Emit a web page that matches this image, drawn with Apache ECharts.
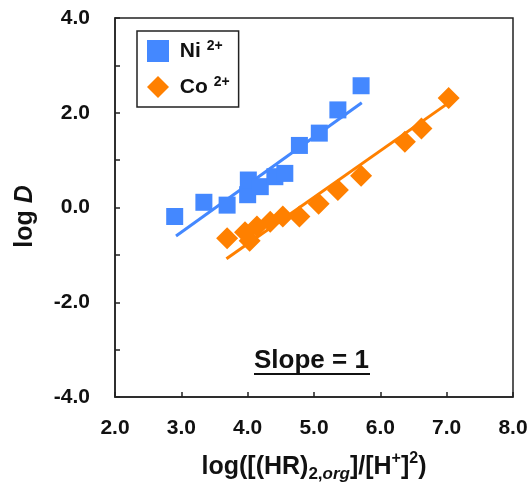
<!DOCTYPE html>
<html lang="en">
<head>
    <meta charset="UTF-8">
    <title>log D vs log([(HR)2,org]/[H+]2)</title>
    <script src="https://cdn.jsdelivr.net/npm/echarts@6/dist/echarts.min.js"></script>
</head>
<body style="margin:0;background:#fff;">
<div id="main" style="width:532px;height:487px;"></div>
<script type="text/javascript">
    // measured points [x, log D]
    var niPoints = [[2.90, -0.19], [3.34, 0.11], [3.69, 0.05], [4.00, 0.27], [4.01, 0.58],
        [4.19, 0.44], [4.41, 0.65], [4.56, 0.72], [4.78, 1.31], [5.08, 1.57], [5.36, 2.06], [5.71, 2.57]];
    var coPoints = [[3.69, -0.65], [3.96, -0.52], [4.03, -0.70], [4.14, -0.40], [4.34, -0.30],
        [4.53, -0.19], [4.78, -0.19], [5.07, 0.08], [5.36, 0.37], [5.71, 0.67], [6.37, 1.39],
        [6.62, 1.67], [7.03, 2.31]];
    // fitted lines (slope = 1)
    var niFit = [[2.92, -0.60], [5.72, 2.21]];
    var coFit = [[3.68, -1.08], [7.05, 2.23]];

    var blue = '#4488ff';
    var orange = '#ff8000';
    var font = 'Arial, "Liberation Sans", sans-serif';

    var myChart = echarts.init(document.getElementById('main'));

    var option = {
        animation: false,
        textStyle: {fontFamily: font},
        grid: {
            left: 115, right: 19, top: 18, bottom: 90,
            outerBoundsMode: 'none',
            show: true, borderColor: '#222', borderWidth: 1.5
        },
        legend: {
            orient: 'vertical',
            left: 137, top: 31,
            data: ['Ni', 'Co'],
            itemWidth: 22, itemHeight: 22, itemGap: 12,
            padding: [8, 9, 8, 10],
            borderColor: '#222', borderWidth: 1.5,
            formatter: function (name) {
                return ' ' + name + ' {sup|2+}';
            },
            textStyle: {
                fontFamily: font, fontWeight: 'bold', fontSize: 21, color: '#111',
                lineHeight: 24,
                rich: {
                    sup: {fontFamily: font, fontSize: 14, fontWeight: 'bold', verticalAlign: 'top', lineHeight: 24, color: '#111'}
                }
            }
        },
        xAxis: {
            type: 'value', min: 2, max: 8, interval: 1,
            name: 'log([(HR){sub|2,}{subi|org}]/[H{sup|+}]{sup|2})',
            nameLocation: 'middle', nameGap: 54,
            nameTextStyle: {
                fontFamily: font, fontWeight: 'bold', fontSize: 25, color: '#111', lineHeight: 32,
                rich: {
                    sub: {fontFamily: font, fontWeight: 'bold', fontSize: 17, verticalAlign: 'bottom', lineHeight: 32, color: '#111'},
                    subi: {fontFamily: font, fontWeight: 'bold', fontStyle: 'italic', fontSize: 17, verticalAlign: 'bottom', lineHeight: 32, color: '#111'},
                    sup: {fontFamily: font, fontWeight: 'bold', fontSize: 16, verticalAlign: 'top', lineHeight: 32, color: '#111'}
                }
            },
            axisLine: {onZero: false, lineStyle: {color: '#222', width: 1.5}},
            axisTick: {inside: true, length: 5, lineStyle: {color: '#222', width: 1.5}},
            splitLine: {show: false},
            axisLabel: {
                margin: 21, fontWeight: 'bold', fontSize: 21, color: '#111',
                formatter: function (v) { return v.toFixed(1); }
            }
        },
        yAxis: {
            type: 'value', min: -4, max: 4, interval: 1,
            name: 'log {i|D}',
            nameLocation: 'middle', nameGap: 77, nameRotate: 90,
            nameTextStyle: {
                fontFamily: font, fontWeight: 'bold', fontSize: 25, color: '#111',
                padding: [0, 18, 0, 0],
                rich: {
                    i: {fontFamily: font, fontWeight: 'bold', fontStyle: 'italic', fontSize: 25, color: '#111'}
                }
            },
            axisLine: {onZero: false, lineStyle: {color: '#222', width: 1.5}},
            axisTick: {inside: true, length: 5, lineStyle: {color: '#222', width: 1.5}},
            splitLine: {show: false},
            axisLabel: {
                margin: 25, fontWeight: 'bold', fontSize: 21, color: '#111',
                formatter: function (v) { return v % 2 === 0 ? v.toFixed(1) : ''; }
            }
        },
        graphic: [
            {
                type: 'text', left: 254, top: 348,
                style: {text: 'Slope = 1', fontFamily: font, fontWeight: 'bold', fontSize: 26, fill: '#111'}
            },
            {
                type: 'line', shape: {x1: 254, y1: 374, x2: 370, y2: 374},
                style: {stroke: '#111', lineWidth: 2}
            }
        ],
        series: [
            {
                name: 'NiFit', type: 'line', data: niFit, showSymbol: false, silent: true,
                lineStyle: {color: blue, width: 3}, z: 1
            },
            {
                name: 'CoFit', type: 'line', data: coFit, showSymbol: false, silent: true,
                lineStyle: {color: orange, width: 3}, z: 1
            },
            {
                name: 'Ni', type: 'scatter', data: niPoints, symbol: 'rect', symbolSize: 17,
                itemStyle: {color: blue, opacity: 1}, z: 3
            },
            {
                name: 'Co', type: 'scatter', data: coPoints, symbol: 'diamond', symbolSize: 22,
                itemStyle: {color: orange, opacity: 1}, z: 2
            }
        ]
    };

    myChart.setOption(option);
</script>
</body>
</html>
